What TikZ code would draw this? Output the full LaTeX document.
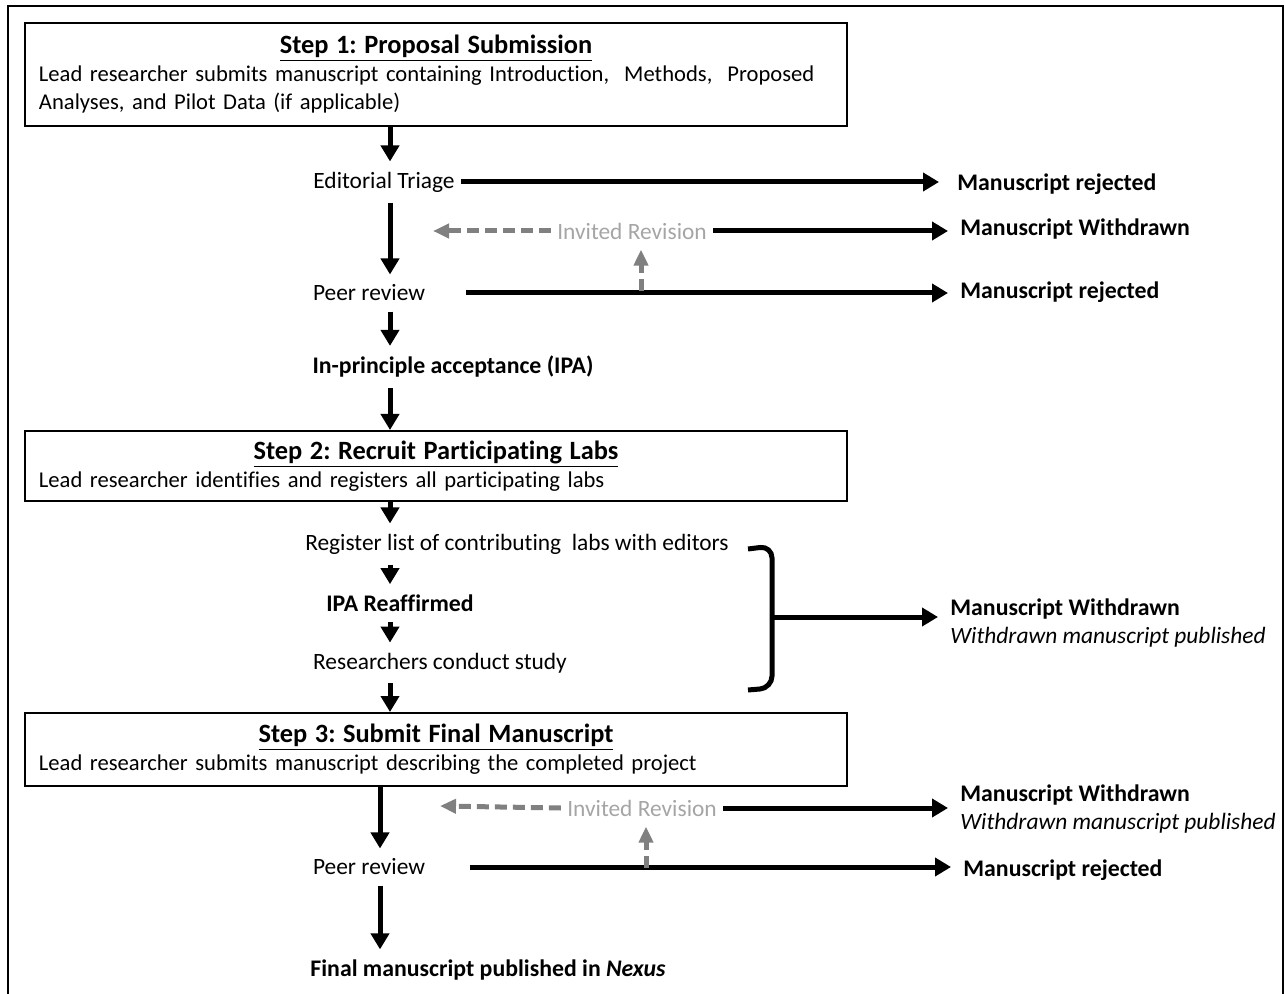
\documentclass[tikz,border=0pt]{standalone}
\usepackage{fontspec}
\setmainfont{Carlito}[Ligatures=NoCommon]
\usetikzlibrary{arrows.meta,positioning}
\frenchspacing

\definecolor{arrgray}{RGB}{128,128,128}
\definecolor{revgray}{RGB}{165,165,165}

\tikzset{
  stepbox/.style={draw, line width=1pt, anchor=north west, minimum width=411pt,
    text width=397pt, inner xsep=7pt, font=\fontsize{11.3}{14}\selectfont},
  lbl/.style={inner xsep=3pt, inner ysep=5pt, font=\fontsize{11.7}{14}\selectfont},
  boldlbl/.style={lbl, font=\fontsize{11.9}{14}\selectfont\bfseries},
  exitnode/.style={boldlbl, anchor=west, align=left},
  invited/.style={lbl, text=revgray},
  flow/.style={line width=2.5pt, -{Triangle[length=8pt,width=9pt]}},
  revise/.style={draw=arrgray, line width=2.5pt, dash pattern=on 6pt off 3pt,
    -{Triangle[length=8pt,width=7pt]}},
}
\newcommand{\steptitle}[1]{{\centering\fontsize{13.2}{15}\selectfont\bfseries\underline{#1}\par}\raggedright}

\begin{document}
\begin{tikzpicture}[x=0.5pt, y=-0.5pt]
\useasboundingbox (0,0) rectangle (1285,994);
% frame
\draw[line width=0.6pt] (8,994) -- (8,6) -- (1283,6) -- (1283,994);

\coordinate (colA) at (390,0);
\coordinate (colB) at (380,0);
\coordinate (branchA) at (466,0);
\coordinate (branchB) at (470,0);

% step 1
\node[stepbox, minimum height=51.5pt] (box1) at (24,22) {\steptitle{Step 1: Proposal Submission}
  Lead researcher submits manuscript containing Introduction,\ \ Methods,\ \ Proposed\\
  Analyses, and Pilot Data (if applicable)};

\node[lbl] (triage) at (384,182) {Editorial Triage};
\node[exitnode] (rej1) at (951,184) {Manuscript rejected};
\node[invited] (inv1) at (632,231) {Invited Revision};
\node[exitnode] (wd1) at (954,229) {Manuscript Withdrawn};
\node[lbl] (peer1) at (369,293) {Peer review};
\node[exitnode] (rej2) at (954,292) {Manuscript rejected};
\node[boldlbl] (ipa) at (453,367) {In-principle acceptance (IPA)};
\coordinate (back1) at (433,231);
\coordinate (up1) at (641,291);

% step 2
\node[stepbox, minimum height=35pt] (box2) at (24,430) {\steptitle{Step 2: Recruit Participating Labs}
  Lead researcher identifies and registers all participating labs};

\node[lbl] (reg) at (517,544) {Register list of contributing\ \ labs with editors};
\node[boldlbl] (ipar) at (400,603) {IPA Reaffirmed};
\node[lbl] (conduct) at (440,663) {Researchers conduct study};
\node[exitnode] (wd2) at (944,623) {Manuscript Withdrawn\\ \fontsize{11.7}{14}\selectfont\mdseries\itshape Withdrawn manuscript published};
\coordinate (brace) at (772,617);

% step 3
\node[stepbox, minimum height=36.5pt] (box3) at (24,712) {\steptitle{Step 3: Submit Final Manuscript}
  Lead researcher submits manuscript describing the completed project};

\node[invited] (inv2) at (642,808) {Invited Revision};
\node[exitnode] (wd3) at (954,809.5) {Manuscript Withdrawn\\ \fontsize{11.7}{14}\selectfont\mdseries\itshape Withdrawn manuscript published};
\node[lbl] (peer2) at (369,867) {Peer review};
\node[exitnode] (rej3) at (957,870) {Manuscript rejected};
\node[boldlbl] (final) at (488,970) {Final manuscript published in \textit{Nexus}};
\coordinate (back2) at (440,806);
\coordinate (up2) at (646,868);

% main line
\draw[flow] (colA |- box1.south) -- (colA |- triage.north);
\draw[flow] (colA |- triage.south) -- (colA |- peer1.north);
\draw[flow] (colA |- peer1.south) -- (colA |- ipa.north);
\draw[flow] (colA |- ipa.south) -- (colA |- box2.north);
\draw[flow] (colA |- box2.south) -- (colA |- reg.north);
\draw[flow] (colA |- reg.south) -- (colA |- ipar.north);
\draw[flow] (colA |- ipar.south) -- (colA |- conduct.north);
\draw[flow] (colA |- conduct.south) -- (colA |- box3.north);
\draw[flow] (colB |- box3.south) -- (colB |- peer2.north);
\draw[flow] (colB |- peer2.south) -- (colB |- final.north);

% side exits
\draw[flow, shorten >=6pt] (triage.east) -- (triage.east -| rej1.west);
\draw[flow, shorten >=3pt] (inv1.east) -- (inv1.east -| wd1.west);
\draw[flow, shorten >=3pt] (branchA |- peer1) -- (peer1 -| rej2.west);
\draw[revise] (inv1.west) -- (back1);
\draw[revise] (up1) -- (up1 |- inv1.south);

\draw[line width=2.5pt, rounded corners=6pt] (748,549) -- (772,546) -- (772,688) -- (748,690);
\draw[flow, shorten >=3pt] (brace) -- (brace -| wd2.west);

\draw[flow, shorten >=3pt] (inv2.east) -- (inv2.east -| wd3.west);
\draw[flow, shorten >=3pt] (branchB |- peer2) -- (peer2 -| rej3.west);
\draw[revise] (inv2.west) -- (back2);
\draw[revise] (up2) -- (up2 |- inv2.south);
\end{tikzpicture}
\end{document}
